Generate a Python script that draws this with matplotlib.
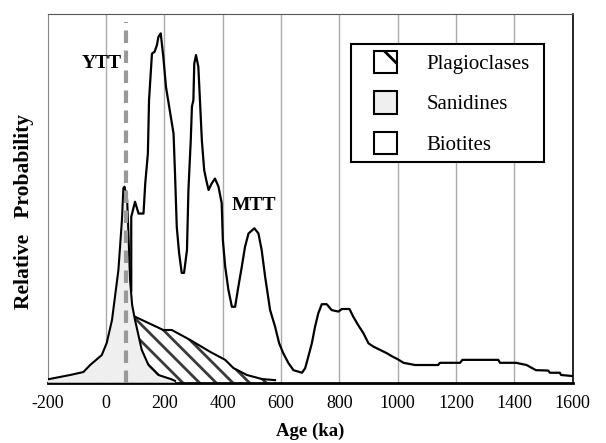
import matplotlib
matplotlib.use("Agg")
import matplotlib.pyplot as plt
from matplotlib.patches import Patch, Rectangle
from matplotlib.legend_handler import HandlerPatch

plt.rcParams['font.family'] = ['Liberation Serif', 'DejaVu Serif']
plt.rcParams['hatch.linewidth'] = 2.0

# Biotites: age (ka), relative probability
bio_age = [87, 87, 100, 112, 129, 135, 144, 148, 158, 167, 175, 180, 188, 197, 206, 217,
           232, 237, 243, 251, 260, 268, 278, 283, 291, 295, 300, 303, 309, 317, 323, 329,
           337, 344, 352, 363, 374, 386, 397, 401, 409, 420, 432, 443, 454, 466, 477, 489,
           509, 523, 534, 546, 563, 580, 594, 608, 626, 643, 660, 672, 683, 694, 706, 717,
           728, 740, 757, 774, 797, 809, 835, 848, 865, 883, 900, 917, 940, 963, 980, 1002,
           1020, 1060, 1139, 1145, 1214, 1222, 1345, 1351, 1406, 1442, 1474, 1516, 1522,
           1556, 1560, 1600]
bio_val = [25, 45.0, 49.1, 45.9, 45.9, 54.1, 62.2, 76.7, 89.3, 89.8, 91.6, 93.8, 94.8, 88.4,
           80.3, 74.9, 67.6, 56.8, 42.3, 35.2, 29.8, 29.8, 36.0, 52.3, 65.8, 74.9, 76.7, 86.6,
           88.9, 85.7, 75.8, 65.8, 57.7, 55.0, 52.3, 54.1, 55.4, 53.2, 48.7, 38.7, 31.5, 25.2,
           20.6, 20.6, 26.0, 31.5, 36.9, 40.5, 41.9, 40.5, 36.0, 28.7, 19.7, 15.2, 10.7, 8.0,
           5.3, 3.4, 3.0, 2.7, 3.9, 7.1, 10.7, 15.2, 18.8, 21.3, 21.3, 19.7, 19.3, 20.0, 20.0,
           17.9, 15.6, 13.4, 10.7, 9.8, 8.9, 8.0, 7.2, 6.3, 5.4, 4.8, 4.8, 5.4, 5.4, 6.2, 6.2,
           5.4, 5.4, 4.8, 3.4, 3.3, 2.7, 2.7, 2.1, 1.8]

# Sanidines
san_age = [-200, -122, -77, -54, -14, 3, 21, 43, 55, 60, 64, 73, 77, 83, 90, 100, 123, 146,
           180, 226, 237]
san_val = [0.9, 2.1, 2.9, 4.8, 7.5, 10.8, 17.0, 30.6, 44.1, 52.8, 53.2, 49.6, 41.4, 27.9,
           21.1, 17.0, 8.9, 4.8, 2.1, 0.9, 0.5]

# Plagioclases
pla_age = [-77, -37, -14, 32, 66, 100, 197, 226, 289, 357, 409, 437, 483, 535, 580]
pla_val = [0.3, 4.3, 5.7, 11.6, 16.5, 17.9, 14.3, 14.3, 11.6, 8.4, 6.2, 4.0, 2.1, 1.0, 0.7]

ytt_age = 68
xticks = [-200, 0, 200, 400, 600, 800, 1000, 1200, 1400, 1600]
legend_labels = ['Plagioclases', 'Sanidines', 'Biotites']

fig = plt.figure(figsize=(6.06, 4.43), dpi=100)
ax = fig.add_axes([0.0784, 0.1361, 0.8666, 0.8319])

ax.set_xlim(-200, 1600)
ax.set_ylim(0, 100)

for t in xticks[1:-1]:
    ax.axvline(t, color='#aaaaaa', lw=1.0, zorder=0)

# plagioclase (hatched)
ax.fill_between(pla_age, 0, pla_val, facecolor='white', edgecolor='#3a3a3a',
                hatch='\\\\', linewidth=0, zorder=1)
ax.plot(pla_age, pla_val, color='black', lw=1.5, zorder=2)

# sanidine (light grey)
ax.fill_between(san_age, 0, san_val, facecolor='#efefef', edgecolor='none', zorder=3)
ax.plot(san_age, san_val, color='black', lw=1.5, zorder=4)

# YTT dashed line
ax.plot([ytt_age, ytt_age], [0, 97.8], color='#999999', lw=3, ls=(0, (3, 1.8)), zorder=5)

# biotite
ax.plot(bio_age, bio_val, color='black', lw=1.6, zorder=6)

ax.text(-14, 86.7, 'YTT', ha='center', va='center', fontsize=14, fontweight='bold')
ax.text(507, 48.2, 'MTT', ha='center', va='center', fontsize=14, fontweight='bold')

ax.set_xticks(xticks)
ax.set_xticklabels([str(t) for t in xticks], fontsize=13)
ax.tick_params(axis='x', length=0, pad=9)
ax.set_yticks([])

ax.spines['bottom'].set_linewidth(2)
ax.spines['bottom'].set_color('black')
ax.spines['right'].set_color('black')
ax.spines['right'].set_linewidth(1.2)
ax.spines['top'].set_color('#555555')
ax.spines['left'].set_color('#888888')

fig.text(0.512, 1 - 431.0 / 443, 'Age (ka)', fontsize=13.5, fontweight='bold',
         ha='center', va='center')
fig.text(0.04, 1 - 211.5 / 443, 'Relative   Probability', rotation=90, fontsize=15.5,
         fontweight='bold', ha='center', va='center')


def small_box(legend, orig_handle, xdescent, ydescent, width, height, fontsize):
    side = 16.0
    return Rectangle((-xdescent + width - side, -ydescent + (height - side) / 2), side, side)


handles = [Patch(facecolor='white', edgecolor='black', hatch='\\', lw=1.5),
           Patch(facecolor='#efefef', edgecolor='black', lw=1.5),
           Patch(facecolor='white', edgecolor='black', lw=1.5)]
leg = ax.legend(handles, legend_labels, loc='upper left',
                bbox_to_anchor=(0.577, 0.919, 0.369, 0), mode='expand',
                fontsize=15, frameon=True, fancybox=False, edgecolor='black',
                framealpha=1, handlelength=1.86, handleheight=1.2, labelspacing=0.85,
                handletextpad=1.43, borderpad=0.35, borderaxespad=0,
                handler_map={Patch: HandlerPatch(patch_func=small_box)})
leg.get_frame().set_linewidth(1.5)

fig.savefig('out.png', dpi=100)
